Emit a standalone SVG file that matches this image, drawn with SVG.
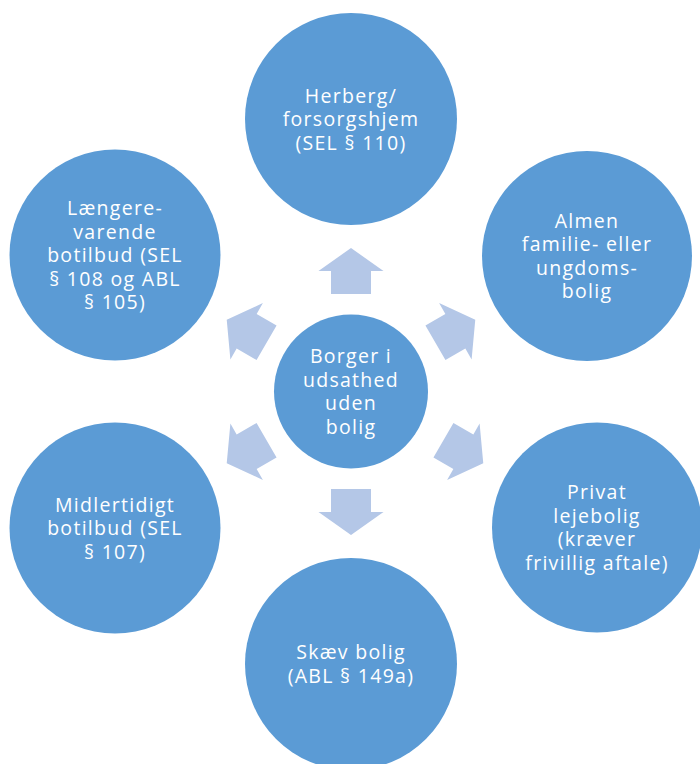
<svg xmlns="http://www.w3.org/2000/svg" width="700" height="764" viewBox="0 0 700 764">
<defs>
<style>
.c{fill:#5B9BD5;}
.a{fill:#B4C7E7;}
.t{fill:#FFFFFF;font-family:"Open Sans","DejaVu Sans",sans-serif;font-size:19.5px;letter-spacing:1.3px;text-anchor:middle;}
</style>
<polygon id="arr" points="331,294 331,271 318.5,271 351,248 383.5,271 371,271 371,294"/>
</defs>
<rect width="700" height="764" fill="#FFFFFF"/>
<g id="connectors" class="a">
<use href="#arr"/>
<use href="#arr" transform="rotate(60 351 391.5)"/>
<use href="#arr" transform="translate(8 0) rotate(120 351 391.5)"/>
<use href="#arr" transform="rotate(180 351 391.5)"/>
<use href="#arr" transform="rotate(240 351 391.5)"/>
<use href="#arr" transform="rotate(300 351 391.5)"/>
</g>
<g id="center">
<circle class="c" cx="351" cy="391.5" r="77"/>
<text class="t"><tspan x="351" y="363.3">Borger i</tspan><tspan x="351" y="386.8">udsathed</tspan><tspan x="351" y="410.3">uden</tspan><tspan x="351" y="433.8">bolig</tspan></text>
</g>
<g id="herberg">
<circle class="c" cx="351" cy="119" r="106"/>
<text class="t"><tspan x="351" y="102.5">Herberg/</tspan><tspan x="351" y="126">forsorgshjem</tspan><tspan x="351" y="149.5">(SEL § 110)</tspan></text>
</g>
<g id="almen">
<circle class="c" cx="587" cy="256" r="105"/>
<text class="t"><tspan x="587" y="227.5">Almen</tspan><tspan x="587" y="251">familie- eller</tspan><tspan x="587" y="274.5">ungdoms-</tspan><tspan x="587" y="298">bolig</tspan></text>
</g>
<g id="privat">
<circle class="c" cx="597" cy="527.5" r="105"/>
<text class="t"><tspan x="597" y="499">Privat</tspan><tspan x="597" y="522.5">lejebolig</tspan><tspan x="597" y="546">(kræver</tspan><tspan x="597" y="569.5">frivillig aftale)</tspan></text>
</g>
<g id="skaev">
<circle class="c" cx="351" cy="664" r="106"/>
<text class="t"><tspan x="351" y="659.3">Skæv bolig</tspan><tspan x="351" y="682.8">(ABL § 149a)</tspan></text>
</g>
<g id="midlertidigt">
<circle class="c" cx="115" cy="528" r="105.5"/>
<text class="t"><tspan x="115" y="511.5">Midlertidigt</tspan><tspan x="115" y="535">botilbud (SEL</tspan><tspan x="115" y="558.5">§ 107)</tspan></text>
</g>
<g id="laengere">
<circle class="c" cx="115" cy="255" r="105.5"/>
<text class="t"><tspan x="115" y="215">Længere-</tspan><tspan x="115" y="238.5">varende</tspan><tspan x="115" y="262">botilbud (SEL</tspan><tspan x="115" y="285.5">§ 108 og ABL</tspan><tspan x="115" y="309">§ 105)</tspan></text>
</g>
</svg>
